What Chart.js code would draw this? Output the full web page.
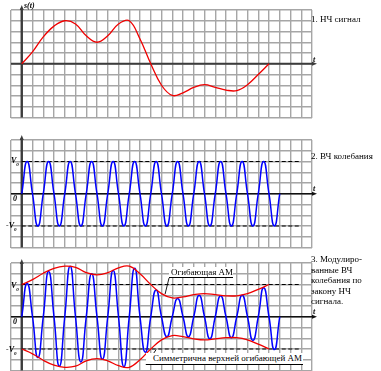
<!DOCTYPE html>
<html>
<head>
<meta charset="utf-8">
<script src="https://cdn.jsdelivr.net/npm/chart.js@4.4.1/dist/chart.umd.min.js"></script>
<style>
body { margin: 0; background: #fff; width: 381px; height: 371px; overflow: hidden; position: relative; font-family: "Liberation Serif", "DejaVu Serif", serif; }
canvas { position: absolute; left: 0; }
.lbl { position: absolute; font-size: 9px; line-height: 10.6px; color: #000; white-space: nowrap; }
.ax { position: absolute; font-style: italic; font-weight: bold; font-size: 8px; line-height: 9px; color: #000; white-space: nowrap; }
.ax span { font-size: 5px; position: relative; top: 3px; }
.note { position: absolute; background: #fff; border-bottom: 1px solid #000; font-size: 9px; line-height: 11px; white-space: nowrap; box-sizing: border-box; }
</style>
</head>
<body>
<canvas id="c1" width="381" height="125" style="top:0"></canvas>
<canvas id="c2" width="381" height="125" style="top:125px"></canvas>
<canvas id="c3" width="381" height="121" style="top:250px"></canvas>

<div class="ax" style="left:24px;top:1px">s(t)</div>
<div class="ax" style="left:313px;top:55px">t</div>
<div class="ax" style="left:313px;top:184px">t</div>
<div class="ax" style="left:313px;top:307px">t</div>

<div class="ax" style="left:11px;top:156px">V<span>0</span></div>
<div class="ax" style="left:13px;top:194px">0</div>
<div class="ax" style="left:6px;top:221px">-V<span>0</span></div>
<div class="ax" style="left:11px;top:281px">V<span>0</span></div>
<div class="ax" style="left:13px;top:317px">0</div>
<div class="ax" style="left:6px;top:345px">-V<span>0</span></div>

<div class="lbl" style="left:311px;top:14px">1. НЧ сигнал</div>
<div class="lbl" style="left:311px;top:151px">2. ВЧ колебания</div>
<div class="lbl" style="left:311px;top:254px">3. Модулиро-<br>ванные ВЧ<br>колебания по<br>закону НЧ<br>сигнала.</div>

<div class="note" style="left:169px;top:267px;width:64px;height:11px;padding-left:2px">Огибающая АМ</div>
<div class="note" style="left:146px;top:353px;width:157px;height:12px;padding-left:7px">Симметрична верхней огибающей АМ</div>

<script>
// 1. НЧ сигнал, sampled at whole grid steps
const nchX = [0, 1, 2, 3, 4, 5, 6, 7, 8, 9, 10, 11, 12, 13, 14, 15, 16, 17, 18, 19, 20, 21, 22, 23];
const nchY = [0, 1.1, 2.5, 3.5, 4.0, 3.7, 2.6, 2.0, 2.6, 3.7, 4.0, 2.3, 0, -2.0, -2.95, -2.7, -2.2, -1.95, -2.2, -2.45, -2.5, -1.95, -1.0, 0];

// 2. ВЧ колебания, sampled at half grid steps
const hfX = [0, 0.5, 1, 1.5, 2, 2.5, 3, 3.5, 4, 4.5, 5, 5.5, 6, 6.5, 7, 7.5, 8, 8.5, 9, 9.5, 10, 10.5, 11, 11.5,
             12, 12.5, 13, 13.5, 14, 14.5, 15, 15.5, 16, 16.5, 17, 17.5, 18, 18.5, 19, 19.5, 20, 20.5, 21, 21.5,
             22, 22.5, 23, 23.5, 24];
const hfY = [0, 3, 0, -3, 0, 3, 0, -3, 0, 3, 0, -3, 0, 3, 0, -3, 0, 3, 0, -3, 0, 3, 0, -3,
             0, 3, 0, -3, 0, 3, 0, -3, 0, 3, 0, -3, 0, 3, 0, -3, 0, 3, 0, -3,
             0, 3, 0, -3, 0];

// 3. АМ колебания (same half steps) and envelopes
const amY = [0, 3.1, 0, -3.8, 0, 4.2, 0, -4.6, 0, 4.7, 0, -4.2, 0, 4.0, 0, -3.95, 0, 4.3, 0, -4.65, 0, 4.5, 0, -3.3,
             0, 2.5, 0, -1.85, 0, 1.7, 0, -1.85, 0, 2.0, 0, -2.05, 0, 1.95, 0, -1.95, 0, 2.0, 0, -2.2,
             0, 2.7, 0, -3.05, 0];
const envX = [0, 1, 2, 3, 4, 5, 6, 7, 8, 9, 10, 11, 12, 13, 14, 15, 16, 17, 18, 19, 20, 21, 22, 23];
const envUp = [3, 3.45, 4.05, 4.5, 4.7, 4.6, 4.1, 3.9, 4.1, 4.55, 4.7, 4.0, 3, 2.15, 1.75, 1.85, 2.05, 2.15, 2.05, 1.95, 1.95, 2.15, 2.55, 3];
const envDown = [-3, -3.45, -4.05, -4.5, -4.7, -4.6, -4.1, -3.9, -4.1, -4.55, -4.7, -4.0, -3, -2.15, -1.75, -1.85, -2.05, -2.15, -2.05, -1.95, -1.95, -2.15, -2.55, -3];

const V0 = 3;
const dashX = [0, 26];

// leader lines of the two notes (grid units)
const leader1 = [[13.7, 3.6], [13.33, 2.1]];
const leader2 = [[11.56, -4.45], [12.5, -3.05]];

const pts = (xs, ys) => xs.map((x, i) => ({ x: x, y: ys[i] }));

function gridScale(min, max) {
  return {
    type: 'linear', min: min, max: max,
    ticks: { display: false, stepSize: 1, maxTicksLimit: 100 },
    grid: { color: '#a6a6a6', lineWidth: 1.4, drawTicks: false },
    border: { display: false },
    afterFit(s) { if (s.isHorizontal()) s.height = 0; else s.width = 0; }
  };
}

const axesPlugin = {
  id: 'axes',
  beforeDatasetsDraw(chart, args, o) {
    const { ctx } = chart;
    const xs = chart.scales.x, ys = chart.scales.y;
    const x0 = xs.getPixelForValue(0), y0 = ys.getPixelForValue(0);
    ctx.save();
    ctx.strokeStyle = o.yColor; ctx.fillStyle = o.yColor; ctx.lineWidth = 2.4;
    ctx.beginPath(); ctx.moveTo(x0, ys.bottom); ctx.lineTo(x0, ys.top - o.up + 3); ctx.stroke();
    ctx.beginPath(); ctx.moveTo(x0, ys.top - o.up); ctx.lineTo(x0 - 2, ys.top - o.up + 5); ctx.lineTo(x0 + 2, ys.top - o.up + 5); ctx.fill();
    ctx.strokeStyle = o.xColor; ctx.fillStyle = o.xColor; ctx.lineWidth = o.xWidth;
    ctx.beginPath(); ctx.moveTo(xs.left, y0); ctx.lineTo(xs.right + 2, y0); ctx.stroke();
    ctx.beginPath(); ctx.moveTo(xs.right + 5, y0); ctx.lineTo(xs.right, y0 - 2); ctx.lineTo(xs.right, y0 + 2); ctx.fill();
    ctx.restore();
  }
};

function line(data, color, width, extra) {
  return Object.assign({ data: data, borderColor: color, borderWidth: width, pointRadius: 0, fill: false }, extra || {});
}

function makeChart(id, datasets, padTop, padBottom, axes) {
  return new Chart(document.getElementById(id), {
    type: 'line',
    data: { datasets: datasets },
    options: {
      responsive: false, animation: false, events: [],
      layout: { padding: { left: 11, right: 69, top: padTop, bottom: padBottom } },
      scales: { x: gridScale(-1, 27), y: gridScale(-5, 5) },
      plugins: { legend: { display: false }, tooltip: { enabled: false }, axes: axes }
    },
    plugins: [axesPlugin]
  });
}

const dashed = (v) => line(dashX.map(x => ({ x: x, y: v })), '#000', 1.2, { borderDash: [4, 2.5] });

makeChart('c1', [
  line(pts(nchX, nchY), '#f00000', 1.3, { tension: 0.4 })
], 10, 7.5, { up: 5, yColor: '#3c3c3c', xColor: '#3c3c3c', xWidth: 2.2 });

makeChart('c2', [
  line(pts(hfX, hfY), '#0000ff', 1.5, { tension: 0.55 }),
  dashed(V0), dashed(-V0)
], 15, 2.5, { up: 5, yColor: '#3c3c3c', xColor: '#111', xWidth: 1.5 });

makeChart('c3', [
  line(pts(envX, envUp), '#f00000', 1.3, { tension: 0.4 }),
  line(pts(envX, envDown), '#f00000', 1.3, { tension: 0.4 }),
  line(leader1.map(p => ({ x: p[0], y: p[1] })), '#000', 0.9),
  line(leader2.map(p => ({ x: p[0], y: p[1] })), '#000', 0.9),
  line(pts(hfX, amY), '#0000ff', 1.5, { tension: 0.55 }),
  dashed(V0), dashed(-V0)
], 13, 0.5, { up: 4, yColor: '#3c3c3c', xColor: '#111', xWidth: 1.5 });
</script>
</body>
</html>
